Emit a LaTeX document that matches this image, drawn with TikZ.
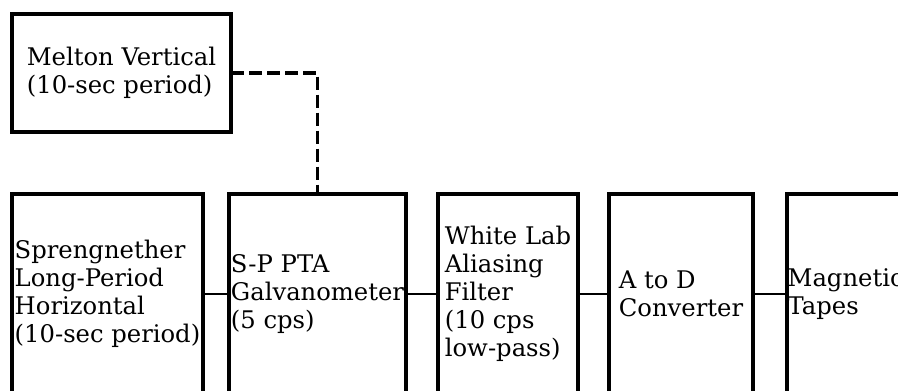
\documentclass[tikz,border=0pt]{standalone}
\usepackage{fontspec}
\setmainfont{DejaVu Serif}
\usetikzlibrary{positioning}
\tikzset{
  unit/.style={
    draw=black,
    line width=2.4pt,
    outer sep=0pt,
    minimum height=150pt,
    align=left,
    inner sep=0.5pt,
    font=\fontsize{18.2}{21}\selectfont
  },
  source/.style={
    unit,
    minimum height=88.5pt
  },
  link/.style={
    line width=2.2pt
  },
  feed/.style={
    line width=2.4pt,
    dash pattern=on 10pt off 3.5pt
  }
}

\begin{document}
\begin{tikzpicture}
  \useasboundingbox (0,0) rectangle (673.5pt,-292.5pt);
  \clip (0,0) rectangle (673.5pt,-292.5pt);
  \node[unit, minimum width=143.25pt, anchor=north west] (sensor) at (9pt,-145.5pt)
    {Sprengnether\\Long-Period\\Horizontal\\(10-sec period)};
  \node[unit, minimum width=132.75pt, right=19.5pt of sensor] (galvo)
    {S-P PTA\\Galvanometer\\(5 cps)};
  \node[unit, minimum width=105pt, right=24pt of galvo] (filter)
    {White Lab\\Aliasing\\Filter\\(10 cps\\low-pass)};
  \node[unit, minimum width=108pt, right=23.25pt of filter] (adc)
    {A to D\\Converter};
  \node[unit, text width=118pt, right=25.5pt of adc] (tapes)
    {Magnetic\\Tapes};
  \node[source, minimum width=164.25pt, above right=46.5pt and 0pt of sensor.north west] (vertical)
    {Melton Vertical\\(10-sec period)};
  \draw[link] (sensor) -- (galvo);
  \draw[link] (galvo) -- (filter);
  \draw[link] (filter) -- (adc);
  \draw[link] (adc) -- (tapes);
  \draw[feed] (vertical.east) -| (galvo.north);
\end{tikzpicture}
\end{document}
